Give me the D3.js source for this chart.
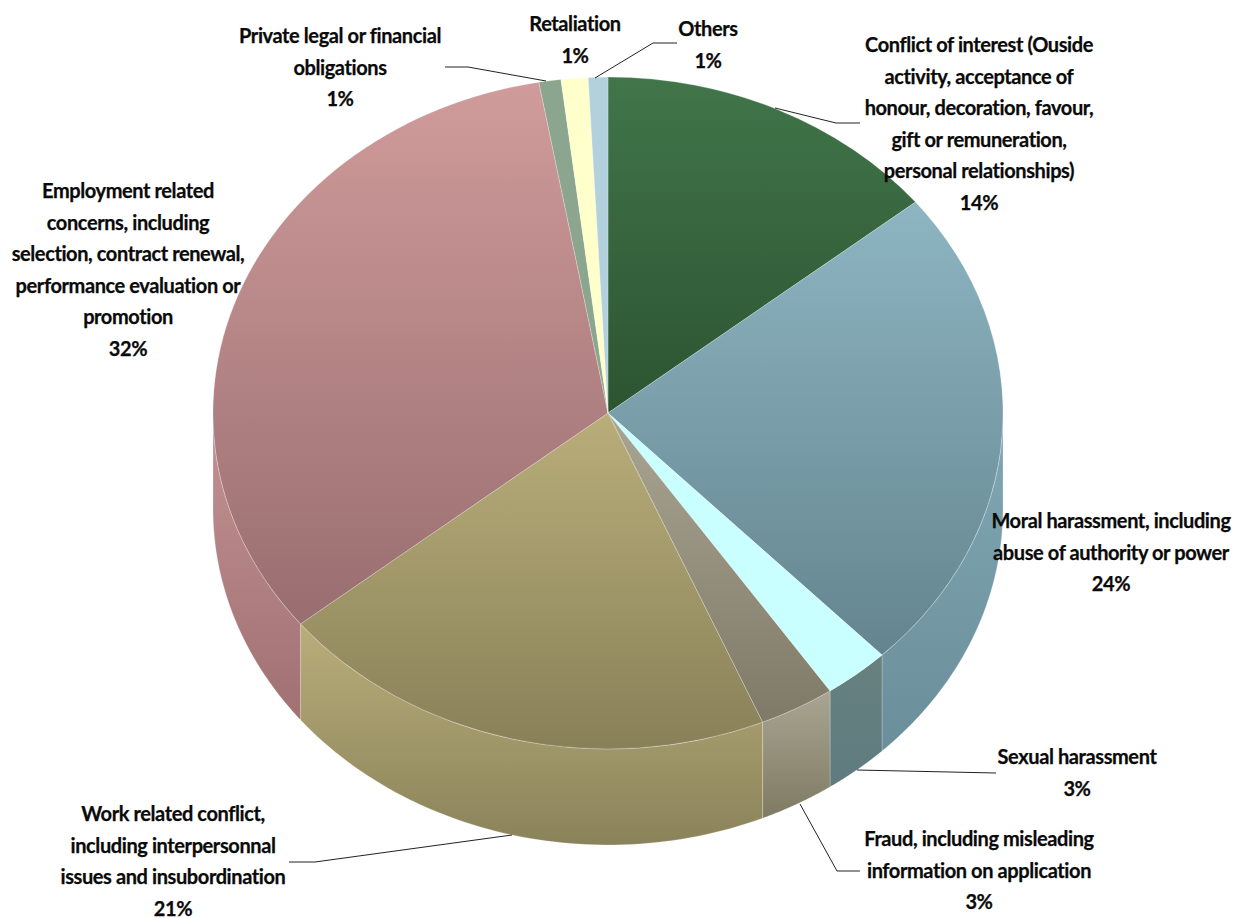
<!doctype html>
<html>
<head>
    <meta charset="UTF-8">
    <script type="text/javascript" src="https://cdn.jsdelivr.net/npm/d3@7"></script>
    <style>
        body { margin: 0; background: #fff; }
        text { font-family: Lato, "Open Sans", sans-serif; font-weight: 700; font-size: 20px; letter-spacing: -0.4px; fill: #0a0a0a; stroke: #0a0a0a; stroke-width: 0.25px; text-anchor: middle; }
    </style>
</head>
<body>
<svg id="chart" width="1233" height="918"></svg>
<script type="text/javascript">
// slice names, clockwise from 12 o'clock
var categories = [
    ["Conflict of interest (Ouside", "activity, acceptance of", "honour, decoration, favour,", "gift or remuneration,", "personal relationships)"],
    ["Moral harassment, including", "abuse of authority or power"],
    ["Sexual harassment"],
    ["Fraud, including misleading", "information on application"],
    ["Work related conflict,", "including interpersonnal", "issues and insubordination"],
    ["Employment related", "concerns, including", "selection, contract renewal,", "performance evaluation or", "promotion"],
    ["Private legal or financial", "obligations"],
    ["Retaliation"],
    ["Others"]
];
// printed labels
var percentLabels = ["14%", "24%", "3%", "3%", "21%", "32%", "1%", "1%", "1%"];
// slice sizes as drawn in the picture
var sliceShares = [14.2, 23.6, 2.7, 3.1, 20.6, 33.0, 0.9, 1.1, 0.8];

var topLight = ["#41754a", "#8db5c2", "#c9ffff", "#a8a592", "#b9ae7a", "#d09b9b", "#8ba58e", "#ffffcc", "#b3d1dd"];
var topDark  = ["#2c5431", "#64858f", "#c9ffff", "#7f7a67", "#888058", "#996e70", "#8ba58e", "#ffffcc", "#b3d1dd"];
var sideLight = ["#41754a", "#80a8b4", "#67817f", "#a8a592", "#b9ae7a", "#c49292", "#8ba58e", "#ffffcc", "#b3d1dd"];
var sideDark  = ["#2c5431", "#6a8e9a", "#5e7b80", "#7f7a62", "#8a825a", "#a07073", "#8ba58e", "#ffffcc", "#b3d1dd"];

// label block: centre x, centre y of first line
var labelX = [979, 1111, 1077, 979, 173, 128, 340, 575, 708];
var labelY = [45, 521, 757, 839, 814, 191, 36, 24, 29];
var lineStep = 31.6;

var leaders = [
    [[775, 108], [836, 123], [860, 123]],
    [[857, 770], [996, 773]],
    [[800, 804], [837, 871], [860, 871]],
    [[512, 835], [315, 862], [289, 862]],
    [[546, 81], [468, 67], [445, 67]],
    [[595, 78], [653, 43], [677, 43]]
];

var cx = 608, cy = 413, rx = 395, ry = 336, depth = 96;

function draw(){
    var svg = d3.select("#chart");
    var defs = svg.append("defs");

    var slices = d3.pie().sort(null).value(d => d)(sliceShares);
    var arc = d3.arc().innerRadius(0).outerRadius(100);

    function gradient(id, c1, c2){
        var g = defs.append("linearGradient").attr("id", id)
            .attr("x1", 0).attr("y1", 0).attr("x2", 0).attr("y2", 1);
        g.append("stop").attr("offset", "0%").attr("stop-color", c1);
        g.append("stop").attr("offset", "100%").attr("stop-color", c2);
    }
    slices.forEach(function(s, i){
        gradient("top" + i, topLight[i], topDark[i]);
        gradient("side" + i, sideLight[i], sideDark[i]);
    });

    // side walls, only the front half of the rim shows
    var rim = d3.line();
    var sides = svg.append("g");
    slices.forEach(function(s, i){
        var a0 = Math.max(s.startAngle, Math.PI / 2);
        var a1 = Math.min(s.endAngle, Math.PI * 1.5);
        if(a1 <= a0) return;
        var angles = d3.range(0, 61).map(k => a0 + (a1 - a0) * k / 60);
        var upper = angles.map(a => [cx + rx * Math.sin(a), cy - ry * Math.cos(a)]);
        var lower = angles.slice().reverse().map(a => [cx + rx * Math.sin(a), cy - ry * Math.cos(a) + depth]);
        sides.append("path")
            .attr("d", rim(upper.concat(lower)) + "Z")
            .attr("fill", "url(#side" + i + ")")
            .attr("stroke", "#fff")
            .attr("stroke-opacity", 0.3)
            .attr("stroke-width", 0.8);
    });

    // top face
    svg.append("g")
        .attr("transform", "translate(" + cx + "," + cy + ") scale(" + rx / 100 + "," + ry / 100 + ")")
        .selectAll("path")
        .data(slices)
        .join("path")
        .attr("d", arc)
        .attr("fill", (d, i) => "url(#top" + i + ")")
        .attr("stroke", "#fff")
        .attr("stroke-opacity", 0.3)
        .attr("stroke-width", 0.8)
        .attr("vector-effect", "non-scaling-stroke");

    // leader lines
    svg.append("g")
        .selectAll("path")
        .data(leaders)
        .join("path")
        .attr("d", d3.line())
        .attr("fill", "none")
        .attr("stroke", "#222")
        .attr("stroke-width", 1);

    // labels
    categories.forEach(function(lines, i){
        var t = svg.append("text").attr("x", labelX[i]).attr("y", labelY[i]);
        lines.concat([percentLabels[i]]).forEach(function(line, k){
            t.append("tspan")
                .attr("x", labelX[i])
                .attr("y", labelY[i] + k * lineStep)
                .attr("dy", "0.35em")
                .text(line);
        });
    });
}
draw();
</script>
</body>
</html>
